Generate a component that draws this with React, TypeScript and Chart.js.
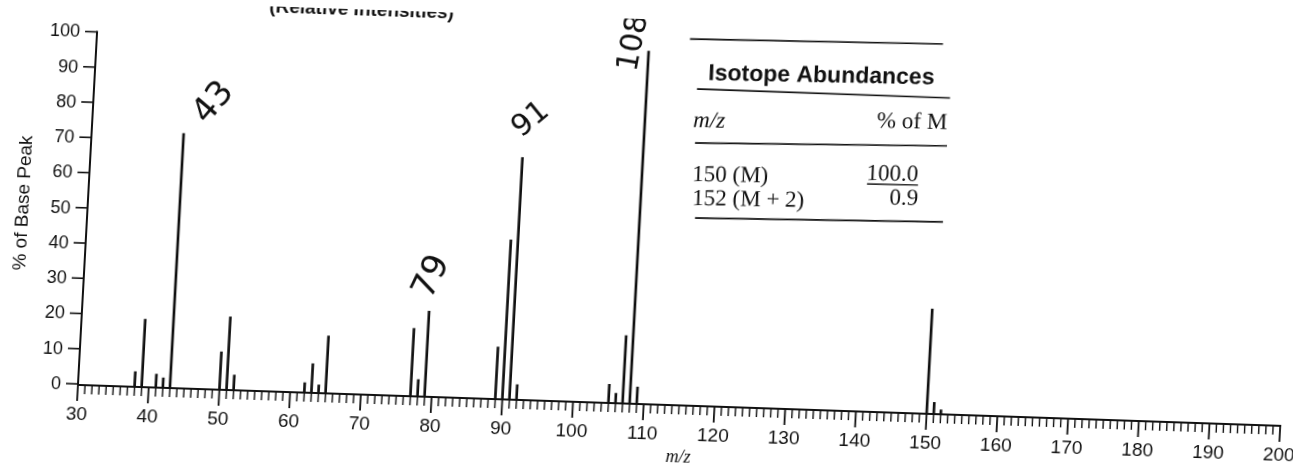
import React, { useEffect, useRef } from "react";
import { Chart, registerables } from "chart.js";

Chart.register(...registerables);

// ---- data ----
const mzValues = [38, 39, 41, 42, 43, 50, 51, 52, 62, 63, 64, 65, 77, 78, 79, 89, 90, 91, 92, 105, 106, 107, 108, 109, 150, 151, 152];
const intensities = [4, 19, 3.5, 2.5, 72, 10.5, 20.5, 4, 2.5, 8, 2, 16, 19, 4.5, 24, 14.5, 45, 68.5, 4, 5, 2.5, 19, 100, 4.5, 29.5, 3, 1];
const xTickLabels = [30, 40, 50, 60, 70, 80, 90, 100, 110, 120, 130, 140, 150, 160, 170, 180, 190, 200];
const yTickLabels = [0, 10, 20, 30, 40, 50, 60, 70, 80, 90, 100];
const isotopeMz = ["150 (M)", "152 (M + 2)"];
const isotopePct = ["100.0", "0.9"];
const annotatedPeaks = ["43", "79", "91", "108"];

// ---- layout (page pixels of the scanned sheet) ----
const W = 1293;
const H = 467;
const CW = 1330; // canvas width (wider than the page so the last label is not clipped)
const TILT = 1.95; // deg, clockwise rotation of the scan
const SKEW = -1.15; // deg
const OX = 78;
const OY = 384;
const XR = 1281;

function toU(px: number, py: number): [number, number] {
  const t = (TILT * Math.PI) / 180;
  const c = Math.cos(t);
  const s = Math.sin(t);
  const dx = px - OX;
  const dy = py - OY;
  const rx = dx * c + dy * s;
  const ry = -dx * s + dy * c;
  const k = Math.tan((SKEW * Math.PI) / 180);
  return [OX + rx - ry * k, OY + ry];
}

const notePlacement = [
  { cx: 214, cy: 103, angle: -50, size: 34 },
  { cx: 432, cy: 277, angle: -65, size: 34 },
  { cx: 531, cy: 120, angle: -40, size: 30 },
  { cx: 634, cy: 43, angle: -80, size: 30 },
];

const decorPlugin = {
  id: "decor",
  afterDatasetsDraw(chart: any) {
    const ctx: CanvasRenderingContext2D = chart.ctx;
    const xs = chart.scales.x;
    const ys = chart.scales.y;
    const y0 = ys.getPixelForValue(0);
    const xL = xs.getPixelForValue(30);
    const line = (a: number, b: number, c: number, d: number) => {
      ctx.beginPath();
      ctx.moveTo(a, b);
      ctx.lineTo(c, d);
      ctx.stroke();
    };
    ctx.save();
    ctx.strokeStyle = "#111";
    ctx.fillStyle = "#111";
    ctx.lineCap = "butt";

    // axes
    ctx.lineWidth = 2;
    line(xL, y0 + 1, xs.getPixelForValue(200) + 1, y0 + 1);
    line(xL, y0 + 1, xL, ys.getPixelForValue(100) - 1);

    // y ticks
    ctx.lineWidth = 1.6;
    ctx.font = "18px 'Liberation Sans', Arial, sans-serif";
    ctx.textAlign = "right";
    ctx.textBaseline = "middle";
    for (const v of yTickLabels) {
      const y = ys.getPixelForValue(v);
      line(xL - 12, y, xL, y);
      ctx.fillText(String(v), xL - 17, y + 1);
    }

    // x ticks
    for (let m = 30; m <= 200; m++) {
      const x = xs.getPixelForValue(m);
      const len = m % 10 === 0 ? 16 : 9;
      ctx.lineWidth = m % 10 === 0 ? 1.8 : 1.4;
      line(x, y0 + 1, x, y0 + 1 + len);
    }
    ctx.font = "19px 'Liberation Sans', Arial, sans-serif";
    ctx.textAlign = "center";
    for (const v of xTickLabels) {
      ctx.fillText(String(v), xs.getPixelForValue(v), y0 + 31);
    }

    // x title
    {
      const [ux, uy] = toU(678, 458);
      ctx.font = "italic 18px 'Liberation Serif', 'Times New Roman', serif";
      ctx.fillText("m/z", ux, uy);
    }
    // y title
    {
      const [ux, uy] = toU(23, 203);
      ctx.save();
      ctx.translate(ux, uy);
      ctx.rotate(-Math.PI / 2);
      ctx.font = "19px 'Liberation Sans', Arial, sans-serif";
      ctx.fillText("% of Base Peak", 0, 0);
      ctx.restore();
    }
    // top title (cut by the page edge)
    {
      const [ux, uy] = toU(269, 12);
      ctx.font = "bold 19px 'Liberation Sans', Arial, sans-serif";
      ctx.textAlign = "left";
      ctx.textBaseline = "alphabetic";
      ctx.fillText("(Relative Intensities)", ux, uy);
    }

    // isotope table
    const pline = (x1: number, y1: number, x2: number, y2: number, w: number) => {
      const a = toU(x1, y1);
      const b = toU(x2, y2);
      ctx.lineWidth = w;
      line(a[0], a[1], b[0], b[1]);
    };
    const ptext = (s: string, px: number, py: number, font: string, align: CanvasTextAlign) => {
      const [ux, uy] = toU(px, py);
      ctx.save();
      ctx.translate(ux, uy);
      ctx.rotate((-(TILT - 1.1) * Math.PI) / 180);
      ctx.font = font;
      ctx.textAlign = align;
      ctx.textBaseline = "alphabetic";
      ctx.fillText(s, 0, 0);
      ctx.restore();
    };
    pline(690, 39, 943, 44, 1.6);
    pline(697, 89, 950, 98, 1.6);
    pline(695, 143, 947, 146, 1.6);
    pline(695, 218, 943, 222, 1.6);
    pline(867, 184, 918, 185, 1.3);
    ptext("Isotope Abundances", 708, 80, "bold 23px 'Liberation Sans', Arial, sans-serif", "left");
    const serif = "23px 'Liberation Serif', 'Times New Roman', serif";
    ptext("m/z", 693, 127, "italic " + serif, "left");
    ptext("% of M", 947, 129, serif, "right");
    ptext(isotopeMz[0], 692, 181, serif, "left");
    ptext(isotopePct[0], 918, 181, serif, "right");
    ptext(isotopeMz[1], 692, 205, serif, "left");
    ptext(isotopePct[1], 918, 205, serif, "right");

    // hand-written peak notes
    annotatedPeaks.forEach((txt, i) => {
      const p = notePlacement[i];
      const [ux, uy] = toU(p.cx, p.cy);
      ctx.save();
      ctx.translate(ux, uy);
      ctx.rotate(((p.angle - TILT) * Math.PI) / 180);
      ctx.font = `${p.size}px 'DejaVu Sans', sans-serif`;
      ctx.textAlign = "center";
      ctx.textBaseline = "middle";
      ctx.fillText(txt, 0, 0);
      ctx.restore();
    });

    ctx.restore();
  },
};

export default function App() {
  const ref = useRef<HTMLCanvasElement | null>(null);
  useEffect(() => {
    if (!ref.current) return;
    const chart = new Chart(ref.current, {
      type: "bar",
      data: {
        datasets: [
          {
            data: mzValues.map((m, i) => ({ x: m, y: intensities[i] })),
            backgroundColor: "#111",
            borderWidth: 0,
            barThickness: 2,
            grouped: false,
          } as any,
        ],
      },
      options: {
        animation: false,
        responsive: false,
        maintainAspectRatio: false,
        devicePixelRatio: 1,
        layout: { padding: { left: OX, top: 31.5, right: CW - XR, bottom: H - OY } },
        scales: {
          x: { type: "linear", min: 30, max: 200, display: false, offset: false },
          y: { type: "linear", min: 0, max: 100, display: false },
        },
        plugins: {
          legend: { display: false },
          tooltip: { enabled: false },
        },
      },
      plugins: [decorPlugin],
    });
    return () => chart.destroy();
  }, []);

  return (
    <div style={{ position: "fixed", left: 0, top: 0, width: W, height: H, overflow: "hidden", background: "#fff" }}>
      <div
        style={{
          position: "absolute",
          left: 0,
          top: 0,
          width: CW,
          height: H,
          transform: `rotate(${TILT}deg) skewX(${SKEW}deg)`,
          transformOrigin: `${OX}px ${OY}px`,
        }}
      >
        <canvas ref={ref} width={CW} height={H} style={{ width: CW, height: H, display: "block" }} />
      </div>
    </div>
  );
}
